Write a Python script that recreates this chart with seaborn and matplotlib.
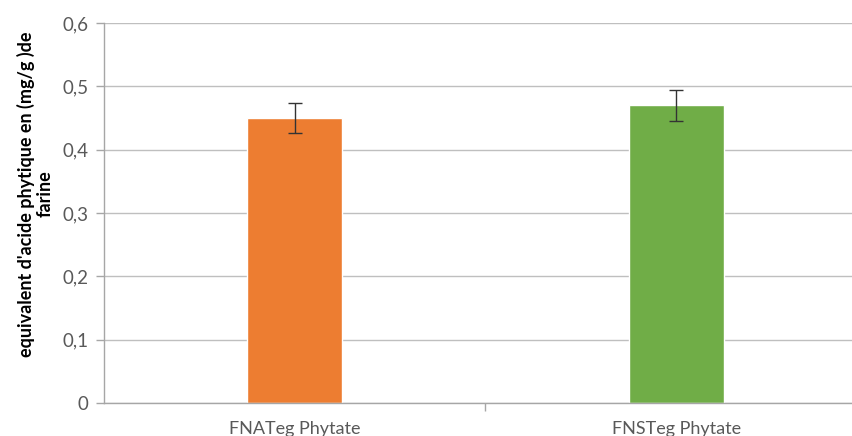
import matplotlib
matplotlib.use("Agg")
import matplotlib.pyplot as plt
import seaborn as sns
import pandas as pd

categories = ["FNATeg Phytate", "FNSTeg Phytate"]
values = [0.45, 0.47]
errors = [0.023, 0.024]
colors = ["#ED7D31", "#70AD47"]
yticks = [0, 0.1, 0.2, 0.3, 0.4, 0.5, 0.6]
ytick_labels = ["0", "0,1", "0,2", "0,3", "0,4", "0,5", "0,6"]
ylabel = "equivalent d'acide phytique en (mg/g )de\nfarine"

sns.set_theme(style="white")
plt.rcParams['font.family'] = ['Lato', 'DejaVu Sans']

df = pd.DataFrame({"cat": categories, "val": values})

fig = plt.figure(figsize=(8.53, 4.36), dpi=100)
W, H = 853, 436
left, right, bottom, top = 104, 867, 403, 23
ax = fig.add_axes([left / W, (H - bottom) / H, (right - left) / W, (bottom - top) / H])

sns.barplot(data=df, x="cat", y="val", hue="cat", palette=colors, width=0.25,
            legend=False, ax=ax, errorbar=None, saturation=1)
ax.errorbar(range(len(categories)), values, yerr=errors, fmt="none",
            ecolor="#333333", elinewidth=1.0, capsize=5, capthick=1.0)

ax.set_ylim(0, 0.6)
ax.set_xlim(-0.5, 1.5)
ax.set_yticks(yticks)
ax.set_yticklabels(ytick_labels, fontsize=13.5, color="#595959")
ax.yaxis.grid(True, color="#BFBFBF", linewidth=1.0)
ax.set_axisbelow(True)

ax.set_xticks([0, 1])
ax.set_xticklabels(categories, fontsize=13, color="#595959")
ax.tick_params(axis="x", length=0, pad=13)
ax.set_xticks([0.5], minor=True)
ax.tick_params(axis="x", which="minor", length=6, color="#A6A6A6", width=1, direction="out", bottom=True)
ax.tick_params(axis="y", length=6, color="#A6A6A6", width=1, direction="out", left=True, pad=5)

for s in ["top", "right"]:
    ax.spines[s].set_visible(False)
for s in ["left", "bottom"]:
    ax.spines[s].set_color("#A6A6A6")
    ax.spines[s].set_linewidth(1)

ax.set_xlabel("")
ax.set_ylabel(ylabel, fontsize=13, fontweight="bold", color="#000000", linespacing=1.15)
ax.yaxis.set_label_coords(-0.066, 0.55)

fig.savefig("out.png", dpi=100)
